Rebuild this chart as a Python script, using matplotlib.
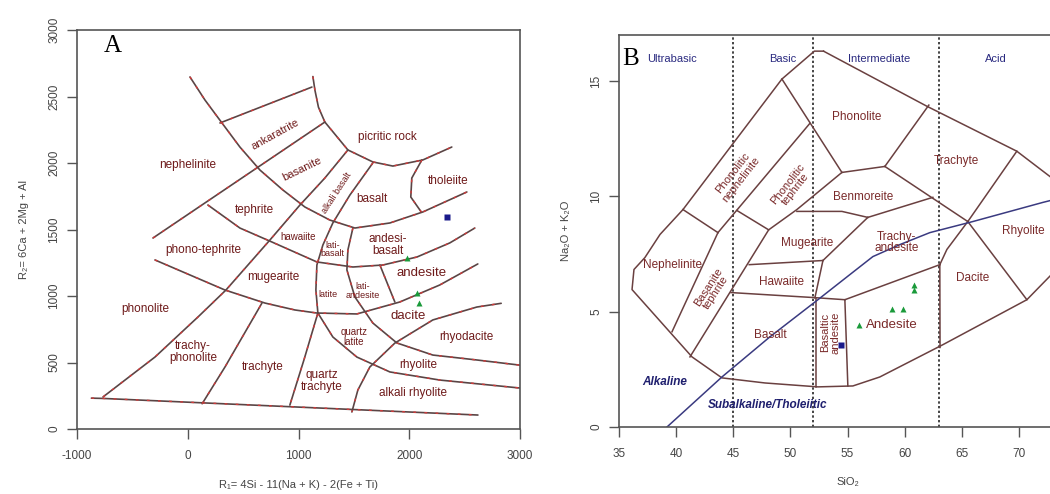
import numpy as np
import matplotlib.pyplot as plt
import matplotlib

plt.rcParams['font.family'] = ['Liberation Sans', 'DejaVu Sans']
plt.rcParams['axes.unicode_minus'] = False

# ---------------- panel A : R1-R2 (De la Roche) ----------------
a_curve_top = [(20, 2647), (155, 2474), (309, 2301), (471, 2120), (652, 1947), (859, 1797),
               (1058, 1669), (1283, 1571), (1509, 1511), (1825, 1549), (2123, 1632), (2520, 1782)]
a_ankaratrite_top = [(291, 2301), (1121, 2571)]
a_picritic = [(1130, 2650), (1148, 2549), (1180, 2420), (1238, 2308), (1446, 2098), (1671, 2008),
              (1852, 1977), (2123, 2023), (2384, 2120)]
a_diag = [(-314, 1436), (1238, 2308)]
a_phonolite_line = [(-765, 241), (-296, 541), (92, 842), (345, 1045), (742, 1421), (1013, 1684),
                    (1238, 1887), (1446, 2098)]
a_alkali_line = [(1671, 2000), (1464, 1759), (1310, 1549), (1220, 1383), (1166, 1233), (1157, 1045),
                 (1175, 872), (1049, 519), (922, 180)]
a_latite_line = [(1491, 1511), (1446, 1346), (1437, 1196), (1509, 993), (1671, 797), (1888, 647),
                 (2213, 556), (2610, 519), (3000, 480)]
a_rhyolite_line = [(1175, 872), (1310, 692), (1527, 541), (1825, 429), (2276, 368), (3000, 308)]
a_dacite_line = [(1482, 128), (1536, 293), (1644, 466), (1870, 646), (2213, 820), (2610, 917), (2830, 945)]
a_base = [(-870, 232), (-770, 230), (2620, 105)]
a_trachyte_line = [(130, 190), (336, 466), (670, 947)]
a_tholeiite = [(2114, 2023), (2023, 1887), (2014, 1744), (2110, 1630)]
a_hawaiite_line = [(182, 1684), (471, 1511), (760, 1406), (1166, 1256), (1491, 1218), (1762, 1233),
                   (2069, 1293), (2366, 1399), (2592, 1511)]
a_mugearite_line = [(-296, 1271), (336, 1045), (697, 947), (967, 895), (1166, 872), (1527, 865),
                    (1915, 955), (2276, 1083), (2619, 1241)]
a_andesite_line = [(1735, 1233), (1870, 955)]

a_lines = [a_curve_top, a_ankaratrite_top, a_picritic, a_diag, a_phonolite_line, a_alkali_line,
           a_latite_line, a_rhyolite_line, a_dacite_line, a_base, a_trachyte_line, a_tholeiite,
           a_hawaiite_line, a_mugearite_line, a_andesite_line]

a_labels = [("nephelinite", 2, 1985, 8.5, 0), ("ankaratrite", 787, 2211, 8, 29),
            ("basanite", 1031, 1955, 8, 26), ("alkali basalt", 1347, 1774, 6.5, 57),
            ("picritic rock", 1798, 2195, 8.5, 0), ("tholeiite", 2348, 1865, 8.5, 0),
            ("basalt", 1662, 1729, 8.5, 0), ("tephrite", 606, 1647, 8.5, 0),
            ("hawaiite", 995, 1444, 7, 0), ("lati-\nbasalt", 1305, 1350, 6.5, 0),
            ("andesi-\nbasalt", 1807, 1383, 8.5, 0), ("phono-tephrite", 137, 1346, 8.5, 0),
            ("mugearite", 769, 1143, 8.5, 0), ("latite", 1265, 1008, 6.5, 0),
            ("lati-\nandesite", 1581, 1038, 6.5, 0), ("andesite", 2114, 1173, 9.5, 0),
            ("dacite", 1987, 850, 9.5, 0), ("phonolite", -386, 902, 8.5, 0),
            ("trachy-\nphonolite", 47, 579, 8.5, 0), ("trachyte", 679, 466, 8.5, 0),
            ("quartz\nlatite", 1500, 692, 7, 0), ("rhyodacite", 2520, 692, 8.5, 0),
            ("rhyolite", 2077, 481, 8.5, 0), ("quartz\ntrachyte", 1211, 361, 8.5, 0),
            ("alkali rhyolite", 2032, 271, 8.5, 0)]

a_tri_x = [1978, 2069, 2087]
a_tri_y = [1286, 1023, 947]
a_sq_x = [2339]
a_sq_y = [1594]

# ---------------- panel B : TAS ----------------
b_outline = [(52.9, 16.3), (52.1, 16.3), (49.26, 15.09), (40.6, 9.43), (38.59, 8.35), (37.27, 7.35),
             (36.31, 6.83), (36.14, 5.96), (41.39, 3.04), (44.01, 2.13), (47.77, 1.91), (52.41, 1.74),
             (55.47, 1.78), (57.83, 2.17), (63.35, 3.57), (70.7, 5.52), (75, 7.7)]
b_top = [(52.9, 16.3), (61.95, 13.91), (69.82, 11.96), (75, 10.0)]
b_pn_pt = [(51.71, 13.17), (43.66, 8.43)]
b_cross1 = [(40.6, 9.43), (43.66, 8.43)]
b_neph = [(43.66, 8.43), (39.64, 4.13)]
b_cross2 = [(45.32, 9.39), (48.1, 8.55)]
b_bt_right = [(41.21, 3.04), (48.1, 8.55), (50.57, 9.43), (54.51, 11.04)]
b_phon_pt = [(49.26, 15.09), (54.51, 11.04)]
b_phon_bottom = [(54.51, 11.04), (58.27, 11.30)]
b_phon_trach = [(58.27, 11.30), (62.12, 13.96)]
b_trach_bottom = [(58.27, 11.30), (65.53, 8.91)]
b_rhy_trach = [(65.53, 8.91), (69.82, 11.96)]
b_dac_rhy = [(65.53, 8.91), (70.7, 5.52)]
b_benm_bottom = [(62.47, 9.96), (56.78, 9.09)]
b_mug_top = [(50.57, 9.35), (54.51, 9.35), (56.78, 9.09)]
b_mug_right = [(52.85, 7.22), (56.78, 9.09)]
b_haw_top = [(46.4, 7.04), (52.85, 7.22)]
b_haw_right = [(52.85, 7.22), (52.15, 5.61)]
b_basalt_top = [(44.8, 5.83), (52.15, 5.61)]
b_ba_top = [(52.15, 5.61), (54.77, 5.52)]
b_basalt_ba = [(52.2, 5.61), (52.2, 1.74)]
b_ba_and = [(54.77, 5.52), (55.03, 1.78)]
b_and_top = [(54.77, 5.52), (63.08, 7.04)]
b_and_dac = [(63.08, 7.04), (63.1, 3.45)]
b_dac_top = [(63.08, 7.04), (63.7, 7.7), (65.53, 8.91)]

b_lines = [b_outline, b_top, b_pn_pt, b_cross1, b_neph, b_cross2, b_bt_right, b_phon_pt,
           b_phon_bottom, b_phon_trach, b_trach_bottom, b_rhy_trach, b_dac_rhy, b_benm_bottom,
           b_mug_top, b_mug_right, b_haw_top, b_haw_right, b_basalt_top, b_ba_top, b_basalt_ba,
           b_ba_and, b_and_top, b_and_dac, b_dac_top]

b_alkaline = [(39.2, 0), (44.01, 2.17), (48.21, 3.91), (52.41, 5.52), (55.21, 6.61), (57.22, 7.39),
              (59.58, 7.91), (62.21, 8.43), (65.97, 8.91), (72.1, 9.74), (75, 10.1)]
b_dividers = [45, 52, 63]
b_groups = [("Ultrabasic", 39.6), ("Basic", 49.35), ("Intermediate", 57.8), ("Acid", 68.0)]

b_labels = [("Phonolite", 55.82, 13.43, 8.5, 0), ("Trachyte", 64.57, 11.52, 8.5, 0),
            ("Phonolitic\nnephelinite", 45.32, 10.87, 8, 52), ("Phonolitic\ntephrite", 50.14, 10.43, 8, 52),
            ("Benmoreite", 56.35, 9.96, 8.5, 0), ("Mugearite", 51.45, 8.0, 8.5, 0),
            ("Trachy-\nandesite", 59.32, 8.0, 8.5, 0), ("Rhyolite", 70.35, 8.48, 8.5, 0),
            ("Dacite", 65.97, 6.48, 8.5, 0), ("Nephelinite", 39.64, 7.04, 8.5, 0),
            ("Basanite\ntephrite", 43.14, 5.96, 8, 57), ("Hawaiite", 49.26, 6.30, 8.5, 0),
            ("Basalt", 48.21, 4.0, 8.5, 0), ("Basaltic\nandesite", 53.5, 4.09, 8, 90),
            ("Andesite", 58.88, 4.43, 9.5, 0)]

b_tri_x = [58.88, 59.85, 56.0, 60.8, 60.8]
b_tri_y = [5.13, 5.13, 4.43, 6.17, 5.96]
b_sq_x = [54.4]
b_sq_y = [3.55]

fig = plt.figure(figsize=(10.5, 4.94), dpi=100)
line_col = '#5a4545'
red_col = '#d03a3a'
text_col = '#6e1a1a'
tick_col = '#444444'


def r_style(ax):
    for s in ax.spines.values():
        s.set_color('#555555')
        s.set_linewidth(1.2)
    ax.tick_params(direction='out', length=7, width=1, colors='#555555', labelcolor=tick_col,
                   labelsize=8.5)
    ax.tick_params(axis='x', pad=8)
    ax.tick_params(axis='y', pad=5)
    for lab in ax.get_yticklabels():
        lab.set_rotation(90)
        lab.set_va('center')


# panel A
ax1 = fig.add_axes([77 / 1050, 65 / 494, 443 / 1050, 399 / 494])
for pts in a_lines:
    xs, ys = zip(*pts)
    ax1.plot(xs, ys, color=line_col, lw=1.2, solid_capstyle='round')
    ax1.plot(xs, ys, color=red_col, lw=1.0, dashes=(2, 6))
for txt, x, y, fs, rot in a_labels:
    ax1.text(x, y, txt, color=text_col, fontsize=fs, rotation=rot, ha='center', va='center',
             linespacing=0.95)
ax1.plot(a_tri_x, a_tri_y, '^', color='#1a9a3a', ms=5, mec='none')
ax1.plot(a_sq_x, a_sq_y, 's', color='#1a1a8a', ms=4.5, mec='none')
ax1.text(-760, 2880, "A", fontsize=18, family='Liberation Serif', ha='left', va='center')
ax1.set_xlim(-1000, 3000)
ax1.set_ylim(0, 3000)
ax1.set_xticks([-1000, 0, 1000, 2000, 3000])
ax1.set_yticks([0, 500, 1000, 1500, 2000, 2500, 3000])
ax1.set_xlabel("R₁= 4Si - 11(Na + K) - 2(Fe + Ti)", fontsize=8, color=tick_col, labelpad=13)
ax1.set_ylabel("R₂= 6Ca + 2Mg + Al", fontsize=8, color=tick_col, labelpad=14)
r_style(ax1)

# panel B
ax2 = fig.add_axes([619 / 1050, 67 / 494, 457 / 1050, 392 / 494])
for d in b_dividers:
    ax2.plot([d, d], [0, 17], color='#444444', lw=1.4, ls=(0, (1.2, 1.2)))
for pts in b_lines:
    xs, ys = zip(*pts)
    ax2.plot(xs, ys, color='#6a4040', lw=1.1)
xs, ys = zip(*b_alkaline)
ax2.plot(xs, ys, color='#3a3a80', lw=1.1)
for txt, x in b_groups:
    ax2.text(x, 15.96, txt, color='#2a2a80', fontsize=8, ha='center', va='center')
for txt, x, y, fs, rot in b_labels:
    ax2.text(x, y, txt, color='#7a2a2a', fontsize=fs, rotation=rot, ha='center', va='center',
             linespacing=0.95)
ax2.text(39.02, 1.96, "Alkaline", color='#1f1f6e', fontsize=8.5, style='italic', weight='bold',
         ha='center', va='center')
ax2.text(48.04, 0.96, "Subalkaline/Tholeiitic", color='#1f1f6e', fontsize=8.5, style='italic',
         weight='bold', ha='center', va='center')
ax2.plot(b_tri_x, b_tri_y, '^', color='#1a9a3a', ms=4.5, mec='none')
ax2.plot(b_sq_x, b_sq_y, 's', color='#1a1a8a', ms=4, mec='none')
ax2.text(35.3, 15.96, "B", fontsize=18, family='Liberation Serif', ha='left', va='center')
ax2.set_xlim(35, 75)
ax2.set_ylim(0, 17)
ax2.set_xticks([35, 40, 45, 50, 55, 60, 65, 70])
ax2.set_yticks([0, 5, 10, 15])
ax2.set_xlabel("SiO₂", fontsize=8, color=tick_col, labelpad=12)
ax2.set_ylabel("Na₂O + K₂O", fontsize=8, color=tick_col, labelpad=14)
r_style(ax2)

fig.savefig("out.png", dpi=100)
